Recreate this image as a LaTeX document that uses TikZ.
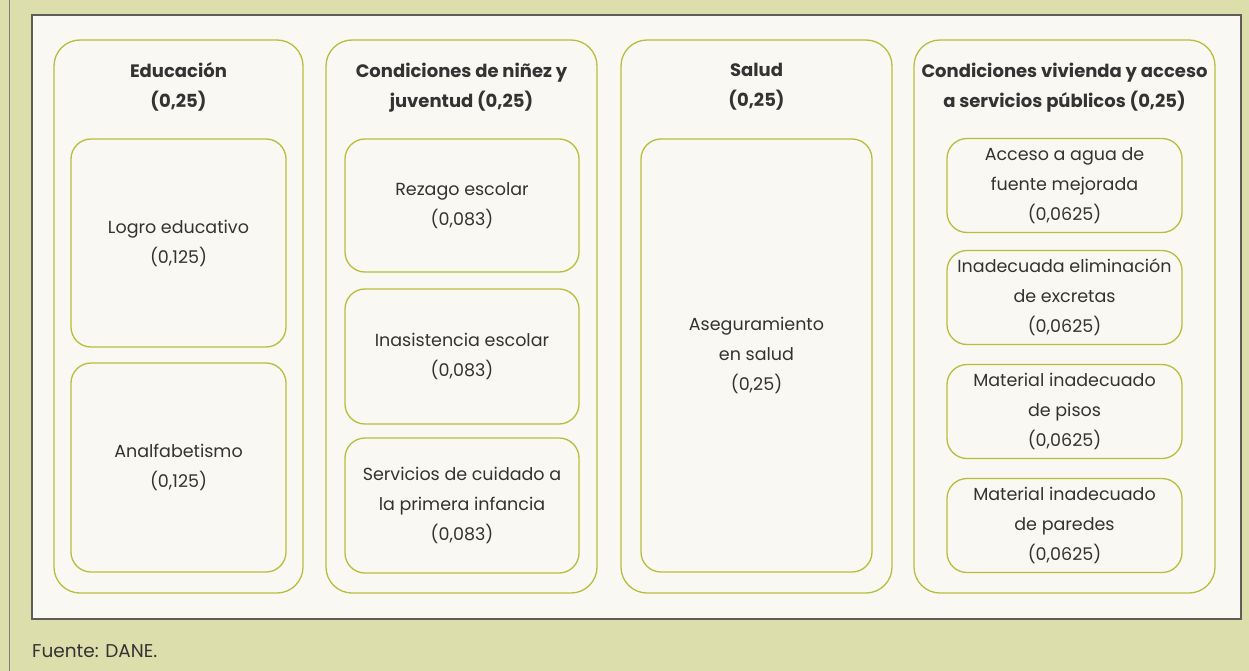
\documentclass[tikz,border=0pt]{standalone}
\usepackage{fontspec}
\setmainfont{Poppins}
\definecolor{fondo}{HTML}{DCDFAB}
\definecolor{panel}{HTML}{F9F8F2}
\definecolor{verde}{HTML}{B7BE3C}
\definecolor{marco}{HTML}{5E5E58}
\definecolor{texto}{HTML}{333333}
\tikzset{
  colbox/.style={draw=verde, line width=1.3pt, rounded corners=26pt, inner sep=0pt},
  subbox/.style={draw=verde, line width=1.3pt, rounded corners=20pt, inner sep=0pt,
    align=center, text=texto, font=\fontsize{17.5}{30}\selectfont},
  titulo/.style={align=center, text=texto, font=\bfseries\fontsize{18}{30}\selectfont},
}
\begin{document}
\begin{tikzpicture}[x=1pt, y=-1pt]
  % fondo y marco
  \fill[fondo] (0,0) rectangle (1249,671);
  \useasboundingbox (0,0) rectangle (1249,671);
  \draw[gray, line width=1pt] (9,0) -- (9,671);
  \draw[marco, fill=panel, line width=1.3pt] (32,15) rectangle (1241,619);

  % columnas
  \node[colbox, minimum width=249pt, minimum height=553pt] (educ) at (178.5,316.5) {};
  \node[colbox, minimum width=271pt, minimum height=553pt] (ninez) at (461.5,316.5) {};
  \node[colbox, minimum width=271pt, minimum height=553pt] (salud) at (756.5,316.5) {};
  \node[colbox, minimum width=301pt, minimum height=553pt] (vivienda) at (1064.5,316.5) {};

  % titulos
  \node[titulo, anchor=north] (t-educ) at ([yshift=-20pt]educ.north) {Educación\\(0,25)};
  \node[titulo, anchor=north] (t-ninez) at ([yshift=-20pt]ninez.north) {Condiciones de niñez y\\juventud (0,25)};
  \node[titulo, anchor=north] (t-salud) at ([yshift=-20pt]salud.north) {Salud\\(0,25)};
  \node[titulo, anchor=north] (t-vivienda) at ([yshift=-20pt]vivienda.north) {Condiciones vivienda y acceso\\a servicios públicos (0,25)};

  % educacion
  \node[subbox, minimum width=215pt, minimum height=208pt] (logro) at (178.5,243) {Logro educativo\\(0,125)};
  \node[subbox, minimum width=215pt, minimum height=209pt] (analf) at (178.5,467.5) {Analfabetismo\\(0,125)};

  % niñez y juventud
  \node[subbox, minimum width=234pt, minimum height=133pt] (rezago) at (462,205.5) {Rezago escolar\\(0,083)};
  \node[subbox, minimum width=234pt, minimum height=135pt] (inasist) at (462,356.5) {Inasistencia escolar\\(0,083)};
  \node[subbox, minimum width=234pt, minimum height=135pt] (cuidado) at (462,505.5) {Servicios de cuidado a\\la primera infancia\\(0,083)};

  % salud
  \node[subbox, minimum width=231pt, minimum height=433pt] (asegur) at (756.5,355.5) {Aseguramiento\\en salud\\(0,25)};

  % vivienda
  \tikzset{every node/.append style={font=\fontsize{17.5}{28}\selectfont}}
  \node[subbox, minimum width=235pt, minimum height=94pt] (agua) at (1064.5,185.5) {Acceso a agua de\\fuente mejorada\\(0,0625)};
  \node[subbox, minimum width=235pt, minimum height=94pt] (excretas) at (1064.5,297.5) {Inadecuada eliminación\\de excretas\\(0,0625)};
  \node[subbox, minimum width=235pt, minimum height=94pt] (pisos) at (1064.5,411.5) {Material inadecuado\\de pisos\\(0,0625)};
  \node[subbox, minimum width=235pt, minimum height=94pt] (paredes) at (1064.5,525.5) {Material inadecuado\\de paredes\\(0,0625)};

  % fuente
  \node[anchor=base west, inner sep=0pt, text=texto, font=\fontsize{18.5}{20}\selectfont] (fuente) at (32,657) {Fuente: DANE.};
\end{tikzpicture}
\end{document}
